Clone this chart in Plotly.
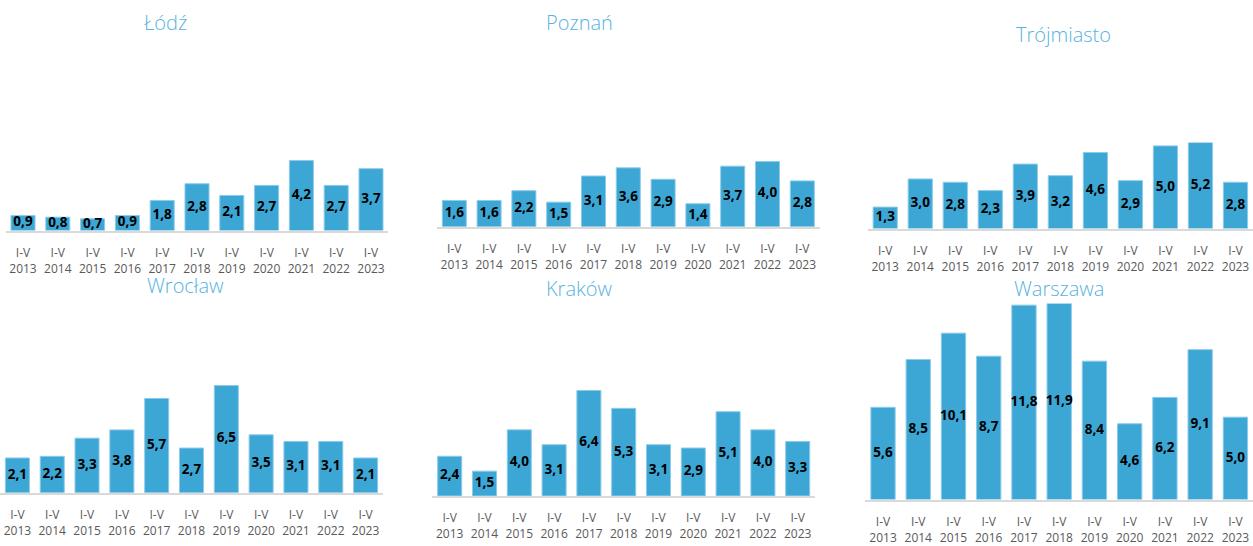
import plotly.graph_objects as go

years = ["2013", "2014", "2015", "2016", "2017", "2018", "2019", "2020", "2021", "2022", "2023"]
tick_labels = ["I-V<br>" + y for y in years]

cities = ["Łódź", "Poznań", "Trójmiasto", "Wrocław", "Kraków", "Warszawa"]

lodz = [0.9, 0.8, 0.7, 0.9, 1.8, 2.8, 2.1, 2.7, 4.2, 2.7, 3.7]
poznan = [1.6, 1.6, 2.2, 1.5, 3.1, 3.6, 2.9, 1.4, 3.7, 4.0, 2.8]
trojmiasto = [1.3, 3.0, 2.8, 2.3, 3.9, 3.2, 4.6, 2.9, 5.0, 5.2, 2.8]
wroclaw = [2.1, 2.2, 3.3, 3.8, 5.7, 2.7, 6.5, 3.5, 3.1, 3.1, 2.1]
krakow = [2.4, 1.5, 4.0, 3.1, 6.4, 5.3, 3.1, 2.9, 5.1, 4.0, 3.3]
warszawa = [5.6, 8.5, 10.1, 8.7, 11.8, 11.9, 8.4, 4.6, 6.2, 9.1, 5.0]

series = [lodz, poznan, trojmiasto, wroclaw, krakow, warszawa]

W, H = 1253, 546
# panel geometry in pixels: x-left, x-right, baseline y, top-of-tallest-bar y, title x, title y
panels = [
    (5.6, 388.4, 234.0, 162.7, 165.7, 23.0),
    (436.9, 819.7, 230.0, 163.7, 579.0, 23.0),
    (867.7, 1253.0, 232.0, 144.7, 1063.3, 35.0),
    (0.0, 383.0, 500.0, 391.0, 185.0, 290.0),
    (432.3, 815.1, 503.3, 396.0, 579.0, 292.7),
    (865.4, 1253.0, 507.0, 308.0, 1058.7, 292.7),
]

BAR = "#3CA6D5"
TITLE = "#58B3DF"
FONT = "Open Sans, Segoe UI, sans-serif"

fig = go.Figure()
layout = dict(
    width=W, height=H,
    margin=dict(l=0, r=0, t=0, b=0),
    paper_bgcolor="white", plot_bgcolor="white",
    showlegend=False,
    bargap=0.31,
    annotations=[],
)

for i, (name, vals, geo) in enumerate(zip(cities, series, panels)):
    xl, xr, base, top, tx, ty = geo
    sfx = "" if i == 0 else str(i + 1)
    xa, ya = "x" + sfx, "y" + sfx
    fig.add_trace(go.Bar(
        x=tick_labels, y=vals, xaxis=xa, yaxis=ya,
        marker=dict(color=BAR, line=dict(color="#8CCBEA", width=1)),
        hoverinfo="skip",
    ))
    fig.add_trace(go.Scatter(
        x=tick_labels, y=[v / 2 for v in vals], xaxis=xa, yaxis=ya,
        mode="text",
        text=[f"{v:.1f}".replace(".", ",") for v in vals],
        textposition="middle center",
        textfont=dict(family=FONT, size=13.5, color="black", weight="bold"),
        cliponaxis=False, hoverinfo="skip",
    ))
    layout["xaxis" + sfx] = dict(
        domain=[xl / W, xr / W], anchor=ya,
        type="category", range=[-0.5, 10.5],
        showline=True, linecolor="#D9D9D9", linewidth=2,
        showgrid=False, zeroline=False, ticks="",
        tickfont=dict(family=FONT, size=12, color="#595959"),
        ticklabelstandoff=10, fixedrange=True,
    )
    layout["yaxis" + sfx] = dict(
        domain=[1 - base / H, 1 - top / H], anchor=xa,
        range=[0, max(vals)],
        visible=False, showgrid=False, zeroline=False, fixedrange=True,
    )
    layout["annotations"].append(dict(
        text=name, x=tx / W, y=1 - ty / H, xref="paper", yref="paper",
        xanchor="center", yanchor="middle", showarrow=False,
        font=dict(family=FONT, size=20, color=TITLE, weight=300),
    ))

fig.update_layout(**layout)
fig.write_html(
    "out.html",
    config={"displayModeBar": False},
    post_script="document.body.style.margin='0';document.body.style.overflow='hidden';",
)
